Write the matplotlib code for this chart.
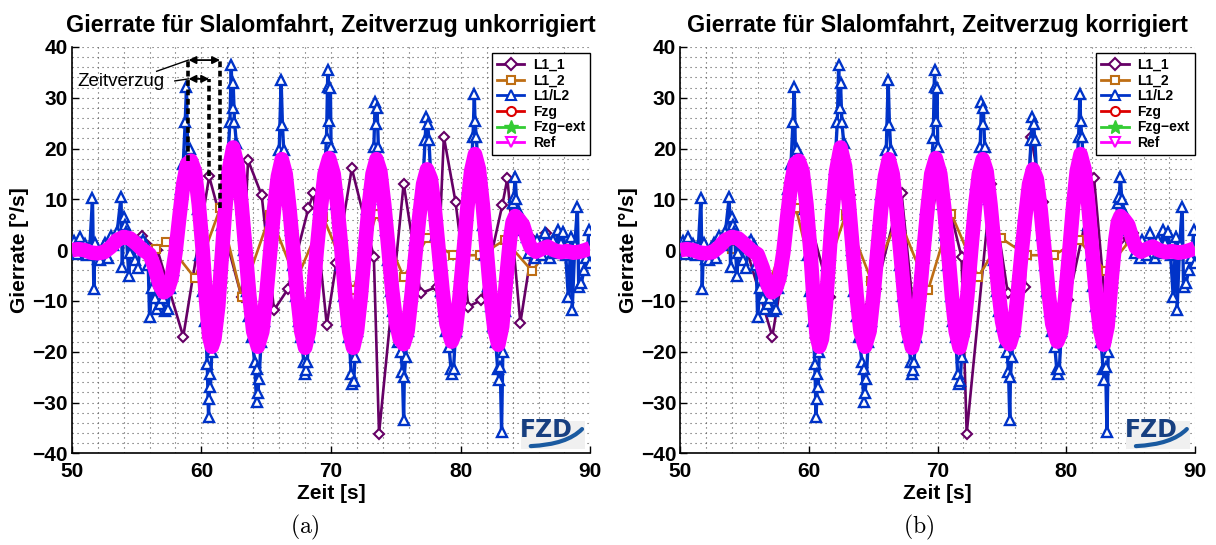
import numpy as np
import matplotlib.pyplot as plt
from matplotlib.ticker import MultipleLocator
from matplotlib.lines import Line2D
from matplotlib.path import Path
from matplotlib.patches import PathPatch, Rectangle

plt.rcParams['font.family'] = ['Liberation Sans', 'DejaVu Sans']
plt.rcParams['font.weight'] = 'bold'
plt.rcParams['mathtext.fontset'] = 'cm'

# Sollwert der Gierrate (Ref), Fzg und Fzg-ext liegen praktisch darauf
ref_t = [50.0, 50.5, 51.0, 51.5, 52.0, 52.5, 53.0, 53.5, 54.0, 54.5, 55.0, 55.5, 56.0, 56.4,
         56.8, 57.1, 57.4, 57.7, 58.0, 58.3, 58.6, 58.9, 59.2, 59.5, 59.8, 60.1, 60.35, 60.6,
         60.8, 61.0, 61.3, 61.55, 61.8, 62.1, 62.45, 62.8, 63.1, 63.4, 63.7, 64.0, 64.35, 64.7,
         65.0, 65.3, 65.6, 65.9, 66.2, 66.5, 66.8, 67.1, 67.4, 67.7, 68.0, 68.3, 68.6, 68.9,
         69.2, 69.5, 69.85, 70.2, 70.5, 70.8, 71.1, 71.4, 71.7, 72.0, 72.3, 72.6, 72.9, 73.2,
         73.5, 73.8, 74.1, 74.4, 74.7, 75.0, 75.3, 75.6, 75.9, 76.2, 76.5, 76.8, 77.1, 77.4,
         77.7, 78.0, 78.3, 78.6, 78.9, 79.3, 79.6, 79.9, 80.2, 80.5, 80.8, 81.1, 81.4, 81.7,
         82.0, 82.3, 82.6, 82.9, 83.2, 83.5, 83.8, 84.0, 84.2, 84.5, 84.8, 85.1, 85.4, 85.8,
         86.3, 86.7, 87.2, 87.7, 88.2, 88.7, 89.2, 89.6, 90.0]
ref_y = [0.0, 0.2, 0.0, -0.5, -0.6, -0.4, 0.6, 2.0, 2.6, 2.3, 1.2, 0.0, -0.8, -3.5,
         -7.0, -8.3, -7.8, -5.5, -0.5, 6.5, 13.0, 17.0, 17.6, 15.5, 9.0, 0.0, -9.5, -17.0,
         -19.0, -17.5, -11.0, -2.0, 7.0, 15.5, 20.2, 16.5, 9.0, 0.0, -9.0, -16.0, -19.0, -16.0,
         -9.0, -0.5, 8.0, 14.5, 17.9, 15.0, 8.0, -0.5, -9.0, -16.0, -19.2, -16.0, -9.0, 0.0,
         8.0, 15.0, 18.1, 15.0, 8.5, 0.0, -9.0, -16.0, -19.2, -16.0, -9.0, 0.0, 8.5, 15.0,
         17.9, 15.5, 9.0, 1.0, -7.5, -14.0, -17.5, -18.5, -16.0, -9.0, -1.0, 6.5, 13.0, 15.9,
         14.0, 8.0, 0.0, -8.0, -14.5, -18.0, -16.0, -9.5, -1.0, 8.0, 15.5, 18.9, 16.0, 9.0,
         0.0, -9.0, -15.5, -18.6, -15.0, -6.0, 2.0, 5.5, 6.7, 6.0, 5.0, 2.5, 0.5, -0.3,
         0.3, 0.7, 0.0, -0.4, -0.2, -0.5, -0.3, 0.0, 0.4]
fzg_y = ref_y
fzg_ext_y = ref_y

# Gierrate aus L1/L2 (verrauscht)
l1l2_t = [50.0, 50.2, 50.4, 50.6, 50.8, 51.0, 51.2, 51.4, 51.6, 51.7, 51.8, 52.0, 52.2, 52.4,
          52.6, 52.8, 53.0, 53.2, 53.5, 53.8, 53.9, 54.0, 54.1, 54.2, 54.4, 54.5, 54.7, 54.9,
          55.1, 55.3, 55.5, 55.7, 55.9, 56.0, 56.2, 56.4, 56.6, 56.8, 57.0, 57.2, 57.4, 57.6,
          57.8, 58.0, 58.2, 58.4, 58.6, 58.75, 58.85, 58.95, 59.1, 59.3, 59.5, 59.7, 59.9, 60.1,
          60.3, 60.45, 60.55, 60.6, 60.65, 60.7, 60.8, 61.0, 61.2, 61.4, 61.6, 61.8, 62.0, 62.2,
          62.3, 62.4, 62.45, 62.55, 62.7, 62.9, 63.1, 63.3, 63.5, 63.7, 63.9, 64.1, 64.25, 64.3,
          64.35, 64.45, 64.6, 64.8, 65.0, 65.2, 65.4, 65.6, 65.8, 66.0, 66.15, 66.25, 66.35, 66.5,
          66.7, 66.9, 67.1, 67.3, 67.5, 67.7, 67.9, 68.0, 68.05, 68.15, 68.3, 68.5, 68.7, 68.9,
          69.1, 69.3, 69.5, 69.65, 69.75, 69.8, 69.85, 69.95, 70.0, 70.2, 70.4, 70.6, 70.8, 71.0,
          71.2, 71.4, 71.55, 71.65, 71.75, 71.85, 72.0, 72.2, 72.4, 72.6, 72.8, 73.0, 73.2, 73.3,
          73.4, 73.5, 73.55, 73.65, 73.8, 74.0, 74.2, 74.4, 74.6, 74.8, 75.0, 75.2, 75.4, 75.5,
          75.6, 75.65, 75.75, 75.9, 76.1, 76.3, 76.5, 76.7, 76.9, 77.1, 77.25, 77.35, 77.45, 77.55,
          77.7, 77.9, 78.1, 78.3, 78.5, 78.7, 78.9, 79.1, 79.25, 79.35, 79.45, 79.6, 79.8, 80.0,
          80.2, 80.4, 80.6, 80.8, 80.95, 81.05, 81.1, 81.2, 81.35, 81.5, 81.7, 81.9, 82.1, 82.3,
          82.5, 82.7, 82.85, 82.95, 83.05, 83.15, 83.25, 83.4, 83.6, 83.8, 84.0, 84.1, 84.2, 84.3,
          84.5, 84.7, 84.9, 85.1, 85.3, 85.5, 85.7, 85.9, 86.1, 86.3, 86.5, 86.7, 86.9, 87.1,
          87.3, 87.5, 87.7, 87.9, 88.1, 88.3, 88.5, 88.6, 88.8, 89.0, 89.1, 89.3, 89.5, 89.7,
          89.9, 90.0]
l1l2_y = [0.5, 1.8, -0.8, 2.5, 0.2, 1.2, -1.0, 0.8, 10.2, -7.6, 1.5, -1.8, -2.0, 0.5,
          1.5, -1.5, 2.8, 1.0, 3.5, 10.5, -3.4, 6.5, 5.0, 3.5, -5.0, -0.5, 1.5, -2.0,
          -3.5, 1.5, 2.0, 1.0, -3.0, -13.1, -7.5, -9.5, -11.5, -10.5, -9.5, -12.0, -11.5, -7.5,
          -4.0, 0.0, 5.0, 12.0, 17.0, 25.2, 32.1, 18.0, 20.0, 16.0, 13.0, 8.0, -1.0, -8.0,
          -14.0, -22.4, -32.8, -29.2, -24.4, -27.0, -20.0, -16.0, -11.0, -3.0, 5.0, 10.0, 16.0, 25.3,
          36.4, 27.9, 32.8, 25.3, 21.0, 14.0, 8.0, 0.0, -8.0, -13.0, -17.0, -22.0, -29.8, -23.3,
          -28.2, -25.3, -18.0, -14.0, -9.0, -1.0, 6.0, 11.0, 15.0, 19.7, 33.4, 24.6, 19.7, 16.0,
          10.0, 4.0, -3.0, -9.0, -14.0, -17.0, -22.1, -24.4, -23.5, -22.1, -17.0, -11.0, -4.0, 2.0,
          8.0, 12.0, 15.5, 22.0, 35.4, 32.1, 25.5, 32.0, 20.3, 15.0, 9.0, 3.0, -3.0, -9.0,
          -14.0, -17.0, -24.4, -26.4, -25.7, -21.0, -16.0, -10.0, -3.0, 3.0, 8.0, 13.0, 16.0, 20.3,
          29.2, 24.9, 27.9, 20.3, 15.0, 10.0, 4.0, -2.0, -8.0, -12.0, -15.0, -18.0, -20.0, -24.0,
          -33.4, -25.0, -21.0, -16.0, -10.0, -4.0, 2.0, 7.0, 10.0, 14.0, 21.6, 26.2, 24.9, 21.6,
          14.0, 9.0, 3.0, -3.0, -8.0, -12.0, -16.0, -19.0, -23.4, -24.4, -23.4, -16.0, -11.0, -5.0,
          1.0, 7.0, 12.0, 16.0, 22.3, 30.8, 25.5, 22.3, 16.0, 11.0, 5.0, -1.0, -7.0, -11.0,
          -15.0, -18.0, -23.4, -25.6, -23.0, -35.8, -20.0, -12.0, -3.0, 3.0, 9.2, 10.5, 14.4, 10.0,
          7.5, 6.0, 4.0, 2.6, -0.5, 1.5, -1.5, 2.0, 0.5, -1.0, 3.3, 1.0, -1.5, 2.0,
          -0.5, 3.9, 1.5, 3.6, -1.0, -9.2, 2.5, -11.8, 1.0, 8.5, -7.2, -6.5, -4.0, -1.5,
          3.9, -2.5]

# Gierrate aus L1_1 (grob abgetastet, verzoegert)
l11_t = [55.45, 56.6, 58.6, 60.6, 63.1, 63.6, 64.65, 65.6, 66.66, 68.25, 68.64, 69.67, 70.4,
         71.6, 73.3, 73.7, 75.6, 76.9, 78.2, 78.7, 79.6, 80.6, 81.6, 83.2, 83.6, 84.6, 85.6,
         86.6, 87.5, 88.5, 89.5]
l11_y = [2.7, 0.1, -17.0, 14.5, -9.2, 17.7, 10.8, -11.8, -7.7, 8.2, 11.2, -14.7, -2.6,
         16.1, -1.3, -36.1, 13.1, -8.5, -7.2, 22.3, 9.5, -11.1, -9.8, 8.8, 14.1, -14.3, 2.0,
         3.3, 0.0, 0.5, 0.0]

# Gierrate aus L1_2
l12_t = [56.5, 57.3, 59.5, 61.44, 63.1, 65.3, 67.3, 69.4, 71.7, 73.5, 75.6, 77.4, 79.4,
         81.5, 83.4, 85.5, 87.4, 89.0]
l12_y = [0.3, 1.6, -5.5, 8.2, -9.2, 7.0, -6.0, 6.5, -7.9, 7.2, -5.3, 2.3, -1.0,
         -1.0, 2.0, -4.1, 2.0, 0.0]

# Zeitverzug der Sensoren gegenueber Ref [s]
delay_l11 = 1.45
delay_l12 = 2.45

C_L11 = '#660066'
C_L12 = '#be6e14'
C_L1L2 = '#0033c8'
C_FZG = '#dd0000'
C_EXT = '#33cc33'
C_REF = '#ff00ff'


def fzd_logo(ax):
    ax.add_patch(Rectangle((0.866, 0.012), 0.124, 0.068, transform=ax.transAxes,
                           facecolor='#f0f0f0', edgecolor='none', zorder=20))
    ax.text(0.915, 0.058, 'FZD', transform=ax.transAxes, ha='center', va='center',
            fontsize=17, fontweight='heavy', family='DejaVu Sans', color='#173f80', zorder=21)
    swoosh = Path([(0.885, 0.018), (0.955, 0.022), (0.984, 0.06)],
                  [Path.MOVETO, Path.CURVE3, Path.CURVE3])
    ax.add_patch(PathPatch(swoosh, transform=ax.transAxes, facecolor='none',
                           edgecolor='#1a5aa0', lw=3.0, capstyle='round', zorder=21))


def panel(ax, title, sh11, sh12):
    t11 = np.array(l11_t) - sh11
    t12 = np.array(l12_t) - sh12
    ax.plot(t11, l11_y, '-D', color=C_L11, lw=1.9, ms=5, mfc='white', mew=1.5, zorder=3)
    ax.plot(t12, l12_y, '-s', color=C_L12, lw=1.9, ms=5.5, mfc='white', mew=1.5, zorder=3)
    ax.plot(l1l2_t, l1l2_y, '-^', color=C_L1L2, lw=2.4, ms=7, mfc='white', mew=1.7, zorder=4)
    ax.plot(ref_t, fzg_y, '-', color=C_FZG, lw=2.5, zorder=5)
    ax.plot(ref_t, fzg_ext_y, '-', color=C_EXT, lw=3.5, zorder=5)
    ax.plot(ref_t, ref_y, '-', color=C_REF, lw=10.5, solid_joinstyle='round',
            solid_capstyle='butt', zorder=6)

    ax.set_xlim(50, 90)
    ax.set_ylim(-40, 40)
    ax.xaxis.set_major_locator(MultipleLocator(10))
    ax.yaxis.set_major_locator(MultipleLocator(10))
    ax.xaxis.set_minor_locator(MultipleLocator(2))
    ax.yaxis.set_minor_locator(MultipleLocator(2))
    ax.grid(True, which='both', color='0.35', lw=0.8, linestyle=(0, (1, 3.5)))
    ax.set_axisbelow(True)
    ax.tick_params(which='major', direction='in', length=5, width=1, labelsize=15)
    ax.tick_params(axis='x', which='major', pad=6)
    ax.tick_params(axis='y', which='major', pad=3)
    ax.tick_params(which='minor', length=0)
    for s in ['top', 'right']:
        ax.spines[s].set_visible(False)
    for s in ['left', 'bottom']:
        ax.spines[s].set_linewidth(1.2)
    ax.set_title(title, fontsize=16.8, fontweight='bold', pad=11)
    ax.set_xlabel('Zeit [s]', fontsize=15, fontweight='bold', labelpad=2)
    ax.set_ylabel('Gierrate [°/s]', fontsize=15, fontweight='bold', labelpad=2)

    handles = [
        Line2D([], [], color=C_L11, marker='D', lw=2, ms=6, mfc='white', mew=1.5),
        Line2D([], [], color=C_L12, marker='s', lw=2, ms=6, mfc='white', mew=1.5),
        Line2D([], [], color=C_L1L2, marker='^', lw=2, ms=7, mfc='white', mew=1.5),
        Line2D([], [], color=C_FZG, marker='o', lw=2, ms=6.5, mfc='white', mew=1.5),
        Line2D([], [], color=C_EXT, marker='*', lw=2, ms=10),
        Line2D([], [], color=C_REF, marker='v', lw=2, ms=7, mfc='white', mew=1.5),
    ]
    leg = ax.legend(handles, ['L1_1', 'L1_2', 'L1/L2', 'Fzg', 'Fzg\u2212ext', 'Ref'],
                    loc='upper right', bbox_to_anchor=(0.999, 0.985), fontsize=10,
                    frameon=True, fancybox=False, edgecolor='black', framealpha=1,
                    borderpad=0.35, labelspacing=0.12, handlelength=2.0,
                    handletextpad=0.6, borderaxespad=0.0)
    leg.get_frame().set_linewidth(1.0)
    leg.set_zorder(30)
    fzd_logo(ax)


fig = plt.figure(figsize=(12.16, 5.45), dpi=100)
ax1 = fig.add_axes([0.059, 0.168, 0.4265, 0.746])
ax2 = fig.add_axes([0.5595, 0.168, 0.4233, 0.746])

panel(ax1, 'Gierrate für Slalomfahrt, Zeitverzug unkorrigiert', 0.0, 0.0)
panel(ax2, 'Gierrate für Slalomfahrt, Zeitverzug korrigiert', delay_l11, delay_l12)

# Zeitverzug zwischen Ref-Spitze und den Spitzen von L1_1 / L1_2
i_ref = ref_t.index(59.2)
i_11 = l11_t.index(60.6)
i_12 = l12_t.index(61.44)
t_r, y_r = ref_t[i_ref] - 0.2, ref_y[i_ref]
t_a, y_a = l11_t[i_11], l11_y[i_11]
t_b, y_b = l12_t[i_12], l12_y[i_12]
y_up, y_lo = 37.4, 33.7
dash = (0, (1.6, 1.0))
ax1.plot([t_r, t_r], [y_r, y_up], color='black', lw=2.6, linestyle=dash, zorder=25)
ax1.plot([t_a, t_a], [y_a, y_lo], color='black', lw=2.6, linestyle=dash, zorder=25)
ax1.plot([t_b, t_b], [y_b, y_up], color='black', lw=2.6, linestyle=dash, zorder=25)
ax1.annotate('', xy=(t_b, y_up), xytext=(t_r, y_up),
             arrowprops=dict(arrowstyle='<|-|>', color='black', lw=1.3,
                             mutation_scale=11, shrinkA=0, shrinkB=0), zorder=26)
ax1.annotate('', xy=(t_a, y_lo), xytext=(t_r, y_lo),
             arrowprops=dict(arrowstyle='<|-|>', color='black', lw=1.3,
                             mutation_scale=11, shrinkA=0, shrinkB=0), zorder=26)
ax1.text(50.45, 33.2, 'Zeitverzug', fontsize=13.5, fontweight='normal', ha='left',
         va='center', zorder=26)
ax1.plot([56.55, t_r], [35.2, y_up], color='black', lw=1.0, zorder=26)
ax1.plot([57.95, t_r], [33.3, y_lo], color='black', lw=1.0, zorder=26)

fig.text(0.251, 0.033, r'$\mathrm{(a)}$', fontsize=17, ha='center', va='center')
fig.text(0.755, 0.033, r'$\mathrm{(b)}$', fontsize=17, ha='center', va='center')

fig.savefig('out.png', dpi=100)
